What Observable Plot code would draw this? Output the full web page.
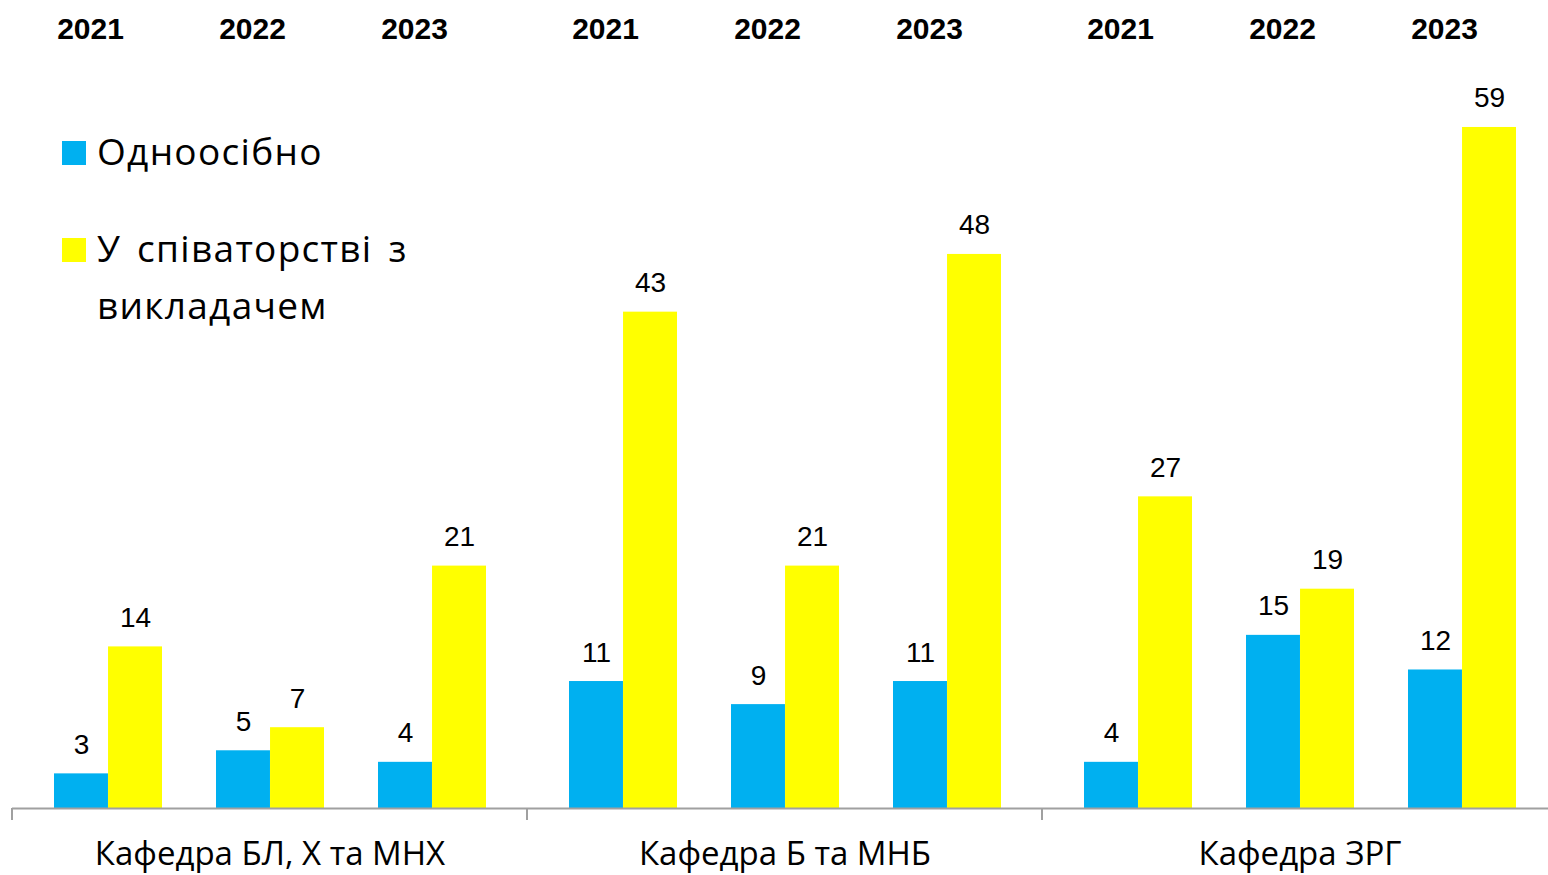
<!DOCTYPE html>
<html><head><meta charset="utf-8">
<script src="https://cdn.jsdelivr.net/npm/d3@7"></script>
<script src="https://cdn.jsdelivr.net/npm/@observablehq/plot@0.6"></script>
<style>
body{margin:0;overflow:hidden;background:#fff}
#wrap{position:relative;width:1548px;height:875px;overflow:hidden}
#chart svg{max-width:none !important}
#legend{position:absolute;left:0;top:0;font-family:"Open Sans";font-size:37px;letter-spacing:1.3px;word-spacing:5px;color:#000}
.sw{position:absolute;left:62px;width:24px;height:24px}
.lab{position:absolute;left:97px;white-space:nowrap;line-height:57px}
</style></head><body>
<div id="wrap"><div id="chart"></div><div id="legend"></div></div>
<script>
const departments = ["Кафедра БЛ, Х та МНХ", "Кафедра Б та МНБ", "Кафедра ЗРГ"];
const years = ["2021", "2022", "2023"];
const series = ["Одноосібно", "У співаторстві з викладачем"];
const seriesLines = [["Одноосібно"], ["У співаторстві з", "викладачем"]];
const solo = [[3, 5, 4], [11, 9, 11], [4, 15, 12]];
const coauthored = [[14, 7, 21], [43, 21, 48], [27, 19, 59]];
const colors = ["#00B0F0", "#FFFF00"];

const data = [];
departments.forEach((dep, i) => years.forEach((yr, j) => {
  data.push({dept: dep, year: yr, series: series[0], value: solo[i][j]});
  data.push({dept: dep, year: yr, series: series[1], value: coauthored[i][j]});
}));

const W = 1557, ML = 12, MR = 0;
const padIn = 0.335, padOut = 0.252;
const facetW = (W - ML - MR) / departments.length;
const step = facetW / (years.length - padIn + 2 * padOut);
const half = step * (1 - padIn) / 2;

const soloData = data.filter(d => d.series === series[0]);
const coData = data.filter(d => d.series === series[1]);
const numFont = "'Liberation Sans', Arial, sans-serif";

const plot = Plot.plot({
  width: W, height: 875,
  marginTop: 0, marginBottom: 67, marginLeft: ML, marginRight: MR,
  style: {fontFamily: "'Open Sans'", background: "transparent", color: "#000", maxWidth: "none", overflow: "visible"},
  fx: {domain: departments, padding: 0, label: null},
  x: {domain: years, paddingInner: padIn, paddingOuter: padOut, axis: null},
  y: {domain: [0, 70], axis: null},
  color: {domain: series, range: colors},
  marks: [
    Plot.barY(soloData, {fx: "dept", x: "year", y1: 0, y2: "value", fill: "series", insetRight: half}),
    Plot.barY(coData, {fx: "dept", x: "year", y1: 0, y2: "value", fill: "series", insetLeft: half}),
    Plot.ruleY([0], {stroke: "#a0a0a0", strokeWidth: 2}),
    Plot.text(soloData, {fx: "dept", x: "year", y: "value", text: d => String(d.value), dx: -half / 2, dy: -20, lineAnchor: "bottom", fontSize: 28, fontFamily: numFont, fill: "#000"}),
    Plot.text(coData, {fx: "dept", x: "year", y: "value", text: d => String(d.value), dx: half / 2, dy: -20, lineAnchor: "bottom", fontSize: 28, fontFamily: numFont, fill: "#000"}),
    Plot.text(soloData, {fx: "dept", x: "year", text: "year", frameAnchor: "top", lineAnchor: "top", dy: 17, dx: -18, fontSize: 30, fontWeight: "bold", fontFamily: numFont, fill: "#000"}),
    Plot.axisFx({anchor: "bottom", tickSize: 0, tickPadding: 33, fontSize: 33, label: null, fontFamily: "'Open Sans'", fill: "#000"})
  ]
});

document.getElementById("chart").appendChild(plot);

// separator ticks at department boundaries, positioned with the fx scale
const fxs = plot.scale("fx");
const ys = plot.scale("y");
const svg = d3.select(plot.tagName.toLowerCase() === "svg" ? plot : plot.querySelector("svg"));
const y0 = ys.apply(0);
departments.forEach(d => {
  const x0 = fxs.apply(d);
  svg.append("line").attr("x1", x0).attr("x2", x0).attr("y1", y0).attr("y2", y0 + 12)
    .attr("stroke", "#a0a0a0").attr("stroke-width", 2);
});

// legend
const legend = document.getElementById("legend");
const swTops = [141, 238];
const labTops = [122, 219];
series.forEach((s, i) => {
  const sw = document.createElement("div");
  sw.className = "sw";
  sw.style.top = swTops[i] + "px";
  sw.style.background = colors[i];
  legend.appendChild(sw);
  const lab = document.createElement("div");
  lab.className = "lab";
  lab.style.top = labTops[i] + "px";
  lab.innerHTML = seriesLines[i].join("<br>");
  legend.appendChild(lab);
});
</script>
</body></html>
